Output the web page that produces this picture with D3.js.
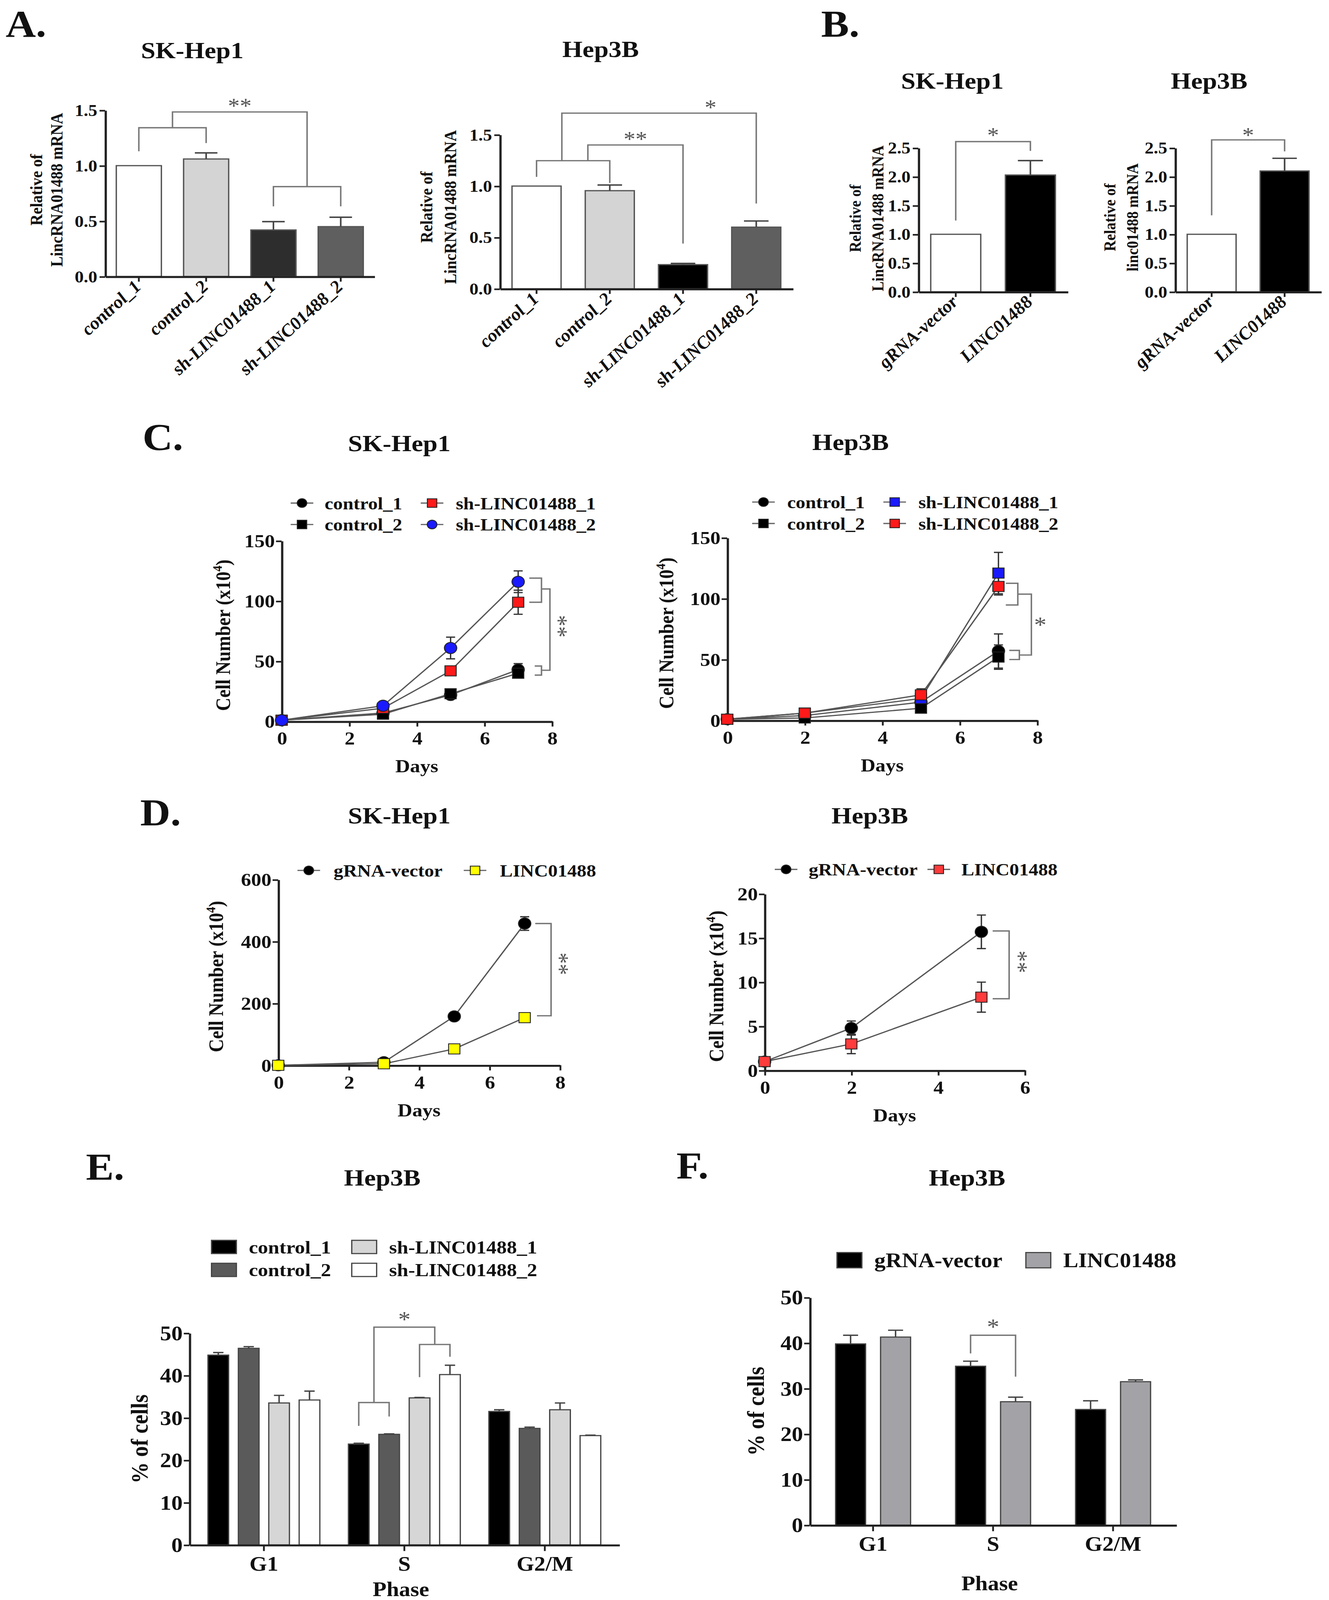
<!DOCTYPE html>
<html lang="en">
<head>
<meta charset="UTF-8">
<title>LINC01488 knockdown / overexpression figure</title>
<style>
  html, body { margin: 0; padding: 0; background: #fff; overflow: hidden; }
  svg { display: block; width: 100vw; height: 100vh; }
  text { font-family: 'Liberation Serif', 'Times New Roman', serif; font-weight: bold; fill: #111; }
  .domain { stroke: #222; stroke-width: 2; }
  .tick line { stroke: #222; stroke-width: 1.6; }
</style>
</head>
<body>
<script src="https://cdn.jsdelivr.net/npm/d3@7/dist/d3.min.js"></script>
<script>
// ---- A: relative LINC01488 after knockdown ----
const aCats = ["control_1", "control_2", "sh-LINC01488_1", "sh-LINC01488_2"];
const aSkMean = [1.00, 1.06, 0.42, 0.45];
const aSkSem = [0, 0.055, 0.075, 0.085];
const aHepMean = [1.00, 0.955, 0.235, 0.60];
const aHepSem = [0, 0.055, 0.012, 0.06];
const aTicks = [0, 0.5, 1.0, 1.5];

// ---- B: relative LINC01488 after overexpression ----
const bCats = ["gRNA-vector", "LINC01488"];
const bSkMean = [1.00, 2.03];
const bSkSem = [0, 0.25];
const bHepMean = [1.00, 2.10];
const bHepSem = [0, 0.22];
const bTicks = [0, 0.5, 1.0, 1.5, 2.0, 2.5];

// ---- C: growth curves, knockdown ----
const cNames = ["control_1", "control_2", "sh-LINC01488_1", "sh-LINC01488_2"];
const cSkDays = [0, 3, 5, 7];
const cSkCtrl1 = [1, 7, 22, 43];
const cSkCtrl1Err = [0, 1, 1.5, 5];
const cSkCtrl2 = [1, 6, 23, 40];
const cSkCtrl2Err = [0, 1, 1.5, 3];
const cSkSh1 = [1, 11, 42, 99];
const cSkSh1Err = [0, 1.5, 2, 10];
const cSkSh2 = [1, 13, 61, 116];
const cSkSh2Err = [0, 2, 9, 9];
const cHepDays = [0, 2, 5, 7];
const cHepCtrl1 = [1, 4, 15, 57];
const cHepCtrl1Err = [0, 1, 2, 14];
const cHepCtrl2 = [1, 2, 10, 52];
const cHepCtrl2Err = [0, 0.5, 2, 10];
const cHepSh1 = [1, 6, 18, 121];
const cHepSh1Err = [0, 1, 3, 17];
const cHepSh2 = [1, 6, 21, 110];
const cHepSh2Err = [0, 1, 5, 7];
const cDayTicks = [0, 2, 4, 6, 8];
const cYTicks = [0, 50, 100, 150];

// ---- D: growth curves, overexpression ----
const dNames = ["gRNA-vector", "LINC01488"];
const dSkDays = [0, 3, 5, 7];
const dSkVec = [0, 10, 158, 458];
const dSkVecErr = [0, 3, 10, 22];
const dSkLinc = [0, 5, 53, 154];
const dSkLincErr = [0, 2, 5, 13];
const dHepDays = [0, 2, 5];
const dHepVec = [1, 4.8, 15.7];
const dHepVecErr = [0, 0.8, 1.9];
const dHepLinc = [1, 3.0, 8.3];
const dHepLincErr = [0, 1.1, 1.7];
const dSkDayTicks = [0, 2, 4, 6, 8];
const dSkYTicks = [0, 200, 400, 600];
const dHepDayTicks = [0, 2, 4, 6];
const dHepYTicks = [0, 5, 10, 15, 20];

// ---- E / F: cell cycle phases ----
const phases = ["G1", "S", "G2/M"];
const eNames = ["control_1", "control_2", "sh-LINC01488_1", "sh-LINC01488_2"];
const eCtrl1 = [44.8, 23.8, 31.5];
const eCtrl1Err = [0.6, 0.2, 0.4];
const eCtrl2 = [46.4, 26.1, 27.5];
const eCtrl2Err = [0.4, 0.1, 0.3];
const eSh1 = [33.5, 34.7, 31.9];
const eSh1Err = [1.8, 0.1, 1.6];
const eSh2 = [34.2, 40.2, 25.8];
const eSh2Err = [2.1, 2.2, 0.1];
const fNames = ["gRNA-vector", "LINC01488"];
const fVec = [39.8, 34.9, 25.4];
const fVecErr = [1.9, 1.1, 1.9];
const fLinc = [41.3, 27.1, 31.5];
const fLincErr = [1.5, 1.0, 0.4];
const pctTicks = [0, 10, 20, 30, 40, 50];

// whole figure is laid out in a 1175 x 1568 frame, stretched to the window
const svg = d3.select("body").append("svg")
  .attr("viewBox", "0 0 1175 1568")
  .attr("preserveAspectRatio", "none");
svg.append("rect").attr("width", 1175).attr("height", 1568).attr("fill", "#fff");

function label(x, y, str, size, anchor) {
  return svg.append("text").attr("x", x).attr("y", y)
    .attr("text-anchor", anchor || "middle")
    .style("font-size", size + "px").text(str);
}

// vertical axis title centred on (cx, cy)
function vlabel(cx, cy, str, size) {
  return svg.append("text")
    .attr("transform", `translate(${cx + size * 0.35},${cy}) rotate(-90)`)
    .attr("text-anchor", "middle").style("font-size", size + "px").text(str);
}

function cellLabel(cx, cy, size) {
  const t = svg.append("text")
    .attr("transform", `translate(${cx + size * 0.35},${cy}) rotate(-90)`)
    .attr("text-anchor", "middle").style("font-size", size + "px");
  t.append("tspan").text("Cell Number (x10");
  t.append("tspan").attr("dy", -size * 0.4).style("font-size", (size * 0.65) + "px").text("4");
  t.append("tspan").attr("dy", size * 0.4).text(")");
}

// significance stars, centred on (cx, cy)
function stars(cx, cy, str, size, vertical) {
  const t = svg.append("text").attr("text-anchor", "middle")
    .style("font-size", size + "px").style("font-weight", "normal").style("fill", "#555").text(str);
  if (vertical) t.attr("transform", `translate(${cx - size * 0.49},${cy}) rotate(90)`);
  else t.attr("x", cx).attr("y", cy + size * 0.49);
}

function bracket(pts) {
  svg.append("path").attr("d", d3.line()(pts))
    .attr("fill", "none").attr("stroke", "#777").attr("stroke-width", 1.3);
}

function styleAxis(g, size) {
  g.selectAll("text").style("font-size", size + "px");
}

// simple bar chart with one bar per category (panels A, B)
function barPanel(p) {
  const x = d3.scaleBand().domain(p.cats).range(p.xr).paddingInner(0.33).paddingOuter(0.165);
  const y = d3.scaleLinear().domain([0, p.ymax]).range(p.yr);
  const cx = c => x(c) + x.bandwidth() / 2;
  svg.append("g").selectAll("rect").data(p.vals).join("rect")
    .attr("x", (d, i) => x(p.cats[i])).attr("y", d => y(d))
    .attr("width", x.bandwidth()).attr("height", d => y(0) - y(d))
    .attr("fill", (d, i) => p.fills[i]).attr("stroke", "#555").attr("stroke-width", 1.2);
  p.vals.forEach((v, i) => {
    if (!p.err[i]) return;
    const c = cx(p.cats[i]), w = x.bandwidth() / 4, top = y(v + p.err[i]);
    svg.append("path").attr("d", `M${c},${y(v)}V${top}M${c - w},${top}H${c + w}`)
      .attr("stroke", "#444").attr("stroke-width", 1.4).attr("fill", "none");
  });
  const ya = svg.append("g").attr("transform", `translate(${p.xr[0]},0)`)
    .call(d3.axisLeft(y).tickValues(p.ticks).tickFormat(d3.format(".1f"))
      .tickSize(5).tickSizeOuter(0).tickPadding(2));
  styleAxis(ya, 16);
  svg.append("g").attr("transform", `translate(0,${p.yr[0]})`)
    .call(d3.axisBottom(x).tickSize(5).tickSizeOuter(0).tickFormat(""));
  p.cats.forEach(c => {
    svg.append("text")
      .attr("transform", `translate(${cx(c) + 3},${p.yr[0] + 11}) rotate(-45)`)
      .attr("text-anchor", "end").style("font-size", "17px").style("font-style", "italic").text(c);
  });
  return { x, y, cx };
}

function marker(x, y, shape, fill, r) {
  if (shape === "circle") {
    svg.append("circle").attr("cx", x).attr("cy", y).attr("r", r)
      .attr("fill", fill).attr("stroke", "#222").attr("stroke-width", 0.8);
  } else {
    svg.append("rect").attr("x", x - r).attr("y", y - r).attr("width", 2 * r).attr("height", 2 * r)
      .attr("fill", fill).attr("stroke", "#222").attr("stroke-width", 0.8);
  }
}

// growth curve panel (C, D)
function linePanel(p) {
  const x = d3.scaleLinear().domain([0, p.xmax]).range(p.xr);
  const y = d3.scaleLinear().domain([0, p.ymax]).range(p.yr);
  const xa = svg.append("g").attr("transform", `translate(0,${p.yr[0]})`)
    .call(d3.axisBottom(x).tickValues(p.xticks).tickFormat(d3.format("d"))
      .tickSize(5).tickSizeOuter(0).tickPadding(5));
  styleAxis(xa, 18);
  const ya = svg.append("g").attr("transform", `translate(${p.xr[0]},0)`)
    .call(d3.axisLeft(y).tickValues(p.yticks).tickFormat(d3.format("d"))
      .tickSize(5).tickSizeOuter(0).tickPadding(1));
  styleAxis(ya, 18);
  const line = d3.line().x(d => x(d[0])).y(d => y(d[1]));
  p.series.forEach(s => {
    svg.append("path").attr("d", line(p.days.map((d, i) => [d, s.vals[i]])))
      .attr("fill", "none").attr("stroke", "#555").attr("stroke-width", 1.2);
  });
  p.series.forEach(s => {
    p.days.forEach((d, i) => {
      const e = s.err[i];
      if (!e) return;
      const c = x(d), lo = y(s.vals[i] - e), hi = y(s.vals[i] + e);
      svg.append("path").attr("d", `M${c},${lo}V${hi}M${c - 4},${lo}H${c + 4}M${c - 4},${hi}H${c + 4}`)
        .attr("stroke", "#333").attr("stroke-width", 1.2).attr("fill", "none");
    });
  });
  p.series.forEach(s => {
    p.days.forEach((d, i) => marker(x(d), y(s.vals[i]), s.shape, s.fill, s.shape === "circle" ? 5.5 : 5));
  });
  // legend
  p.series.forEach((s, i) => {
    const L = p.legend[i];
    svg.append("line").attr("x1", L[0] - 10).attr("x2", L[0] + 10).attr("y1", L[1]).attr("y2", L[1])
      .attr("stroke", "#666").attr("stroke-width", 1.2);
    marker(L[0], L[1], s.shape, s.fill, s.shape === "circle" ? 4.3 : 4.2);
    label(L[2], L[1] + 6, s.name, 17, "start");
  });
  cellLabel(p.ylabX, (p.yr[0] + p.yr[1]) / 2 + 4, 18);
  label((p.xr[0] + p.xr[1]) / 2, p.yr[0] + 50, "Days", 18);
  return { x, y };
}

// grouped bar chart (E, F)
function groupPanel(p) {
  const x0 = d3.scaleBand().domain(phases).range(p.xr).paddingInner(0).paddingOuter(p.po);
  const x1 = d3.scaleBand().domain(p.names).range([0, x0.bandwidth()])
    .paddingInner(p.pi1).paddingOuter(p.po1);
  const y = d3.scaleLinear().domain([0, 50]).range(p.yr);
  p.series.forEach(s => {
    svg.append("g").selectAll("rect").data(s.vals).join("rect")
      .attr("x", (d, i) => x0(phases[i]) + x1(s.name)).attr("y", d => y(d))
      .attr("width", x1.bandwidth()).attr("height", d => y(0) - y(d))
      .attr("fill", s.fill).attr("stroke", "#444").attr("stroke-width", 1.1);
    s.vals.forEach((v, i) => {
      const c = x0(phases[i]) + x1(s.name) + x1.bandwidth() / 2, w = x1.bandwidth() / 4, top = y(v + s.err[i]);
      svg.append("path").attr("d", `M${c},${y(v)}V${top}M${c - w},${top}H${c + w}`)
        .attr("stroke", "#444").attr("stroke-width", 1.3).attr("fill", "none");
    });
  });
  const ya = svg.append("g").attr("transform", `translate(${p.xr[0]},0)`)
    .call(d3.axisLeft(y).tickValues(pctTicks).tickSize(5).tickSizeOuter(0).tickPadding(1));
  styleAxis(ya, 20);
  const xa = svg.append("g").attr("transform", `translate(0,${p.yr[0]})`)
    .call(d3.axisBottom(x0).tickSize(6).tickSizeOuter(0).tickPadding(5));
  styleAxis(xa, 20);
  vlabel(p.ylabX, (p.yr[0] + p.yr[1]) / 2, "% of cells", 21);
  label((p.xr[0] + p.xr[1]) / 2 - 3, p.phaseY, "Phase", 20);
  const cx = (name, ph) => x0(ph) + x1(name) + x1.bandwidth() / 2;
  return { y, cx };
}

function legendBox(x, y, w, h, fill, text, size) {
  svg.append("rect").attr("x", x).attr("y", y - h / 2).attr("width", w).attr("height", h)
    .attr("fill", fill).attr("stroke", "#444").attr("stroke-width", 1.1);
  label(x + w + 11, y + size * 0.35, text, size, "start");
}

// ================= panel letters & titles =================
label(5, 36, "A.", 37, "start");
label(726, 36, "B.", 37, "start");
label(126, 441, "C.", 37, "start");
label(124, 809, "D.", 37, "start");
label(76, 1156, "E.", 37, "start");
label(598, 1155, "F.", 37, "start");

label(170, 57, "SK-Hep1", 23);
label(531, 56, "Hep3B", 23);
label(842, 87, "SK-Hep1", 23);
label(1069, 87, "Hep3B", 23);
label(353, 442, "SK-Hep1", 23);
label(752, 441, "Hep3B", 23);
label(353, 807, "SK-Hep1", 23);
label(769, 807, "Hep3B", 23);
label(338, 1162, "Hep3B", 23);
label(855, 1162, "Hep3B", 23);

// ================= A =================
const aSk = barPanel({ cats: aCats, vals: aSkMean, err: aSkSem, ymax: 1.5, ticks: aTicks,
  xr: [93, 331], yr: [271, 108], fills: ["#ffffff", "#d4d4d4", "#2d2d2d", "#5f5f5f"] });
vlabel(32, 186, "Relative of", 15.3);
vlabel(50, 186, "LincRNA01488 mRNA", 15.3);
{
  const c = aCats.map(aSk.cx), y = aSk.y;
  const m1 = (c[0] + c[1]) / 2, m2 = (c[2] + c[3]) / 2;
  bracket([[c[0], y(1.13)], [c[0], y(1.342)], [c[1], y(1.342)], [c[1], y(1.204)]]);
  bracket([[c[2], y(0.633)], [c[2], y(0.811)], [c[3], y(0.811)], [c[3], y(0.633)]]);
  bracket([[m1, y(1.342)], [m1, y(1.484)], [m2, y(1.484)], [m2, y(0.811)]]);
  stars((m1 + m2) / 2, y(1.57), "**", 21);
}

const aHep = barPanel({ cats: aCats, vals: aHepMean, err: aHepSem, ymax: 1.5, ticks: aTicks,
  xr: [442, 701], yr: [283, 132], fills: ["#ffffff", "#d4d4d4", "#000000", "#5f5f5f"] });
vlabel(377, 203, "Relative of", 15.3);
vlabel(398, 203, "LincRNA01488 mRNA", 15.3);
{
  const c = aCats.map(aHep.cx), y = aHep.y;
  const m = (c[0] + c[1]) / 2;
  bracket([[c[0], y(1.09)], [c[0], y(1.247)], [c[1], y(1.247)], [c[1], y(1.03)]]);
  bracket([[m + 13, y(1.247)], [m + 13, y(1.40)], [c[2], y(1.40)], [c[2], y(0.44)]]);
  bracket([[m - 10, y(1.247)], [m - 10, y(1.71)], [c[3], y(1.71)], [c[3], y(0.83)]]);
  stars((m + 13 + c[2]) / 2, y(1.49), "**", 21);
  stars((c[2] + c[3]) / 2 - 8, y(1.80), "*", 21);
}

// ================= B =================
const bSk = barPanel({ cats: bCats, vals: bSkMean, err: bSkSem, ymax: 2.5, ticks: bTicks,
  xr: [812, 944], yr: [286, 145], fills: ["#ffffff", "#000000"] });
vlabel(756, 214, "Relative of", 14.5);
vlabel(776, 214, "LincRNA01488 mRNA", 14.5);
{
  const c = bCats.map(bSk.cx), y = bSk.y;
  bracket([[c[0], y(1.24)], [c[0], y(2.61)], [c[1], y(2.61)], [c[1], y(2.45)]]);
  stars((c[0] + c[1]) / 2, y(2.78), "*", 21);
}
const bHep = barPanel({ cats: bCats, vals: bHepMean, err: bHepSem, ymax: 2.5, ticks: bTicks,
  xr: [1039, 1168], yr: [286, 145], fills: ["#ffffff", "#000000"] });
vlabel(981, 213, "Relative of", 14.5);
vlabel(1001, 213, "linc01488 mRNA", 14.5);
{
  const c = bCats.map(bHep.cx), y = bHep.y;
  bracket([[c[0], y(1.33)], [c[0], y(2.64)], [c[1], y(2.64)], [c[1], y(2.44)]]);
  stars((c[0] + c[1]) / 2, y(2.78), "*", 21);
}

// ================= C =================
const cSk = linePanel({
  days: cSkDays, xmax: 8, ymax: 150, xticks: cDayTicks, yticks: cYTicks,
  xr: [249, 488], yr: [707, 530], ylabX: 197,
  series: [
    { name: cNames[0], vals: cSkCtrl1, err: cSkCtrl1Err, shape: "circle", fill: "#000" },
    { name: cNames[1], vals: cSkCtrl2, err: cSkCtrl2Err, shape: "square", fill: "#000" },
    { name: cNames[2], vals: cSkSh1, err: cSkSh1Err, shape: "square", fill: "#ff1a1a" },
    { name: cNames[3], vals: cSkSh2, err: cSkSh2Err, shape: "circle", fill: "#1a1aff" }
  ],
  legend: [[267, 493, 287], [267, 514, 287], [382, 493, 403], [382, 514, 403]]
});
{
  const x = cSk.x, y = cSk.y;
  bracket([[x(7.33), y(119)], [x(7.69), y(119)], [x(7.69), y(99)], [x(7.33), y(99)]]);
  bracket([[x(7.49), y(46)], [x(7.69), y(46)], [x(7.69), y(38.5)], [x(7.49), y(38.5)]]);
  bracket([[x(7.69), y(110)], [x(7.94), y(110)], [x(7.94), y(42.5)], [x(7.69), y(42.5)]]);
  stars(x(8.31), y(79), "**", 22, true);
}

const cHep = linePanel({
  days: cHepDays, xmax: 8, ymax: 150, xticks: cDayTicks, yticks: cYTicks,
  xr: [643, 917], yr: [706, 527], ylabX: 589,
  series: [
    { name: cNames[0], vals: cHepCtrl1, err: cHepCtrl1Err, shape: "circle", fill: "#000" },
    { name: cNames[1], vals: cHepCtrl2, err: cHepCtrl2Err, shape: "square", fill: "#000" },
    { name: cNames[2], vals: cHepSh1, err: cHepSh1Err, shape: "square", fill: "#1a1aff" },
    { name: cNames[3], vals: cHepSh2, err: cHepSh2Err, shape: "square", fill: "#ff1a1a" }
  ],
  legend: [[675, 492, 696], [675, 513, 696], [791, 492, 812], [791, 513, 812]]
});
{
  const x = cHep.x, y = cHep.y;
  bracket([[x(7.19), y(112.6)], [x(7.5), y(112.6)], [x(7.5), y(94.8)], [x(7.19), y(94.8)]]);
  bracket([[x(7.28), y(57.5)], [x(7.54), y(57.5)], [x(7.54), y(50)], [x(7.28), y(50)]]);
  bracket([[x(7.5), y(103.7)], [x(7.85), y(103.7)], [x(7.85), y(53.7)], [x(7.54), y(53.7)]]);
  stars(x(8.08), y(81.4), "*", 22);
}

// ================= D =================
const dSk = linePanel({
  days: dSkDays, xmax: 8, ymax: 600, xticks: dSkDayTicks, yticks: dSkYTicks,
  xr: [246, 495], yr: [1044, 862], ylabX: 191,
  series: [
    { name: dNames[0], vals: dSkVec, err: dSkVecErr, shape: "circle", fill: "#000" },
    { name: dNames[1], vals: dSkLinc, err: dSkLincErr, shape: "square", fill: "#ffff00" }
  ],
  legend: [[273, 853, 295], [420, 853, 442]]
});
{
  const x = dSk.x, y = dSk.y;
  bracket([[x(7.3), y(458)], [x(7.75), y(458)], [x(7.75), y(160)], [x(7.35), y(160)]]);
  stars(x(8.11), y(328), "**", 22, true);
}

const dHep = linePanel({
  days: dHepDays, xmax: 6, ymax: 20, xticks: dHepDayTicks, yticks: dHepYTicks,
  xr: [676, 906], yr: [1049, 876], ylabX: 633,
  series: [
    { name: dNames[0], vals: dHepVec, err: dHepVecErr, shape: "circle", fill: "#000" },
    { name: dNames[1], vals: dHepLinc, err: dHepLincErr, shape: "square", fill: "#ff3b3b" }
  ],
  legend: [[695, 852, 715], [830, 852, 850]]
});
{
  const x = dHep.x, y = dHep.y;
  bracket([[x(5.26), y(15.8)], [x(5.64), y(15.8)], [x(5.64), y(8.12)], [x(5.26), y(8.12)]]);
  stars(x(5.95), y(12.3), "**", 22, true);
}

// ================= E =================
const ePanel = groupPanel({
  names: eNames, xr: [167.5, 547.5], yr: [1514, 1306.4], po: 0.03, pi1: 0.32, po1: 0.47,
  ylabX: 123, phaseY: 1564,
  series: [
    { name: eNames[0], vals: eCtrl1, err: eCtrl1Err, fill: "#000000" },
    { name: eNames[1], vals: eCtrl2, err: eCtrl2Err, fill: "#5a5a5a" },
    { name: eNames[2], vals: eSh1, err: eSh1Err, fill: "#d6d6d6" },
    { name: eNames[3], vals: eSh2, err: eSh2Err, fill: "#ffffff" }
  ]
});
legendBox(187, 1222, 22, 13, "#000000", eNames[0], 18);
legendBox(187, 1244.5, 22, 13, "#5a5a5a", eNames[1], 18);
legendBox(311, 1222, 22, 13, "#d6d6d6", eNames[2], 18);
legendBox(311, 1244.5, 22, 13, "#ffffff", eNames[3], 18);
{
  const y = ePanel.y, c = n => ePanel.cx(n, "S");
  const l1 = c(eNames[0]), l2 = c(eNames[1]), u1 = c(eNames[2]), u2 = c(eNames[3]);
  const ml = (l1 + l2) / 2, mu = (u1 + u2) / 2;
  bracket([[l1, y(28.1)], [l1, y(33.6)], [l2, y(33.6)], [l2, y(30.3)]]);
  bracket([[u1, y(39.6)], [u1, y(47.3)], [u2, y(47.3)], [u2, y(44.4)]]);
  bracket([[ml, y(33.6)], [ml, y(51.4)], [mu, y(51.4)], [mu, y(47.3)]]);
  stars((ml + mu) / 2, y(54), "*", 22);
}

// ================= F =================
const fPanel = groupPanel({
  names: fNames, xr: [716, 1040], yr: [1494.6, 1271.5], po: 0.027, pi1: 0.333, po1: 0.5,
  ylabX: 668, phaseY: 1558.6,
  series: [
    { name: fNames[0], vals: fVec, err: fVecErr, fill: "#000000" },
    { name: fNames[1], vals: fLinc, err: fLincErr, fill: "#a3a3a7" }
  ]
});
legendBox(740, 1235, 22, 15, "#000000", fNames[0], 20);
legendBox(907, 1235, 22, 15, "#a3a3a7", fNames[1], 20);
{
  const y = fPanel.y;
  const a = fPanel.cx(fNames[0], "S"), b = fPanel.cx(fNames[1], "S");
  bracket([[a, y(37.7)], [a, y(41.7)], [b, y(41.7)], [b, y(32.6)]]);
  stars((a + b) / 2, y(44.3), "*", 22);
}
</script>
</body>
</html>
